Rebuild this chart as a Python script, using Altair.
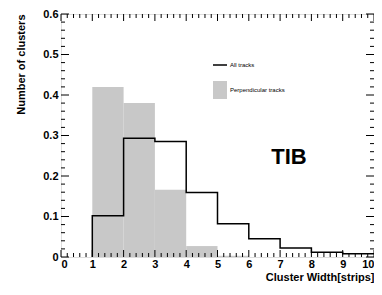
import altair as alt
import pandas as pd

# Histogram data (bin edges on cluster width)
all_edges = [1, 2, 3, 4, 5, 6, 7, 8, 9]
all_values = [0.102, 0.293, 0.285, 0.159, 0.082, 0.045, 0.022, 0.012, 0.008]
perp_edges = [1, 2, 3, 4, 5]
perp_values = [0.42, 0.38, 0.166, 0.027, 0.003]

x_major = list(range(0, 11))
x_ticks = [round(i * 0.2, 1) for i in range(51)]
y_major = [round(i * 0.1, 1) for i in range(7)]
y_ticks = [round(i * 0.02, 2) for i in range(31)]

legend_labels = ["All tracks", "Perpendicular tracks"]
panel_label = "TIB"

W, H = 313, 243
FONT = "Liberation Sans"

perp_df = pd.DataFrame({"x": perp_edges, "x2": [e + 1 for e in perp_edges], "y": perp_values})
line_df = pd.DataFrame({
    "x": [all_edges[0]] + all_edges + [all_edges[-1] + 1],
    "y": [0] + all_values + [all_values[-1]],
})
xt_df = pd.DataFrame({"v": x_ticks})
yt_df = pd.DataFrame({"v": y_ticks})

xs = alt.Scale(domain=[0, 10], nice=False, zero=True)
ys = alt.Scale(domain=[0, 0.6], nice=False, zero=True)

xmaj_test = "abs(datum.v - round(datum.v)) < 0.001"
ymaj_test = "abs(datum.v*10 - round(datum.v*10)) < 0.001"

bars = alt.Chart(perp_df).mark_rect(color="#c8c8c8").encode(
    x=alt.X("x:Q", scale=xs, axis=alt.Axis(
        orient="bottom", values=x_major, ticks=False, domain=False, grid=False,
        labelFont=FONT, labelFontWeight="bold", labelFontSize=11, labelColor="black",
        labelPadding=1, labelFlush=True, title="Cluster Width[strips]", titleFont=FONT,
        titleFontWeight="bold", titleFontSize=11, titleColor="black", titleAnchor="end",
        titlePadding=2)),
    x2="x2:Q",
    y=alt.Y("y:Q", scale=ys, axis=alt.Axis(
        orient="left", values=y_major, ticks=False, domain=False, grid=False,
        labelFont=FONT, labelFontWeight="bold", labelFontSize=11, labelColor="black",
        labelPadding=3, labelFlush=False,
        labelExpr="datum.value == 0 ? '0' : format(datum.value, '.1f')",
        title="Number of clusters", titleFont=FONT, titleFontWeight="bold",
        titleFontSize=11, titleColor="black", titleAnchor="end", titlePadding=16)),
    y2=alt.datum(0),
)

line = alt.Chart(line_df).mark_line(interpolate="step-after", color="black", strokeWidth=1.5).encode(
    x=alt.X("x:Q", scale=xs, axis=None),
    y=alt.Y("y:Q", scale=ys, axis=None),
)


def xtick_layer(major, edge):
    ln = 7 if major else 4
    test = xmaj_test if major else "!(" + xmaj_test + ")"
    y0, y1 = (H, H - ln) if edge == "bottom" else (0, ln)
    return alt.Chart(xt_df).transform_filter(test).mark_rule(color="black", strokeWidth=1).encode(
        x=alt.X("v:Q", scale=xs, axis=None), y=alt.value(y0), y2=alt.value(y1))


def ytick_layer(major, edge):
    ln = 8 if major else 4
    test = ymaj_test if major else "!(" + ymaj_test + ")"
    x0, x1 = (0, ln) if edge == "left" else (W, W - ln)
    return alt.Chart(yt_df).transform_filter(test).mark_rule(color="black", strokeWidth=1).encode(
        y=alt.Y("v:Q", scale=ys, axis=None), x=alt.value(x0), x2=alt.value(x1))


ticks = [xtick_layer(m, e) for m in (True, False) for e in ("bottom", "top")] + \
        [ytick_layer(m, e) for m in (True, False) for e in ("left", "right")]

leg_df = pd.DataFrame({"label": legend_labels})

leg_line = alt.Chart(leg_df.iloc[[0]]).mark_rule(color="black", strokeWidth=1.5).encode(
    x=alt.value(152), x2=alt.value(166), y=alt.value(51))
leg_rect = alt.Chart(leg_df.iloc[[1]]).mark_rect(color="#c8c8c8").encode(
    x=alt.value(152), x2=alt.value(166), y=alt.value(67), y2=alt.value(85))
leg_text1 = alt.Chart(leg_df.iloc[[0]]).mark_text(
    align="left", baseline="middle", font=FONT, fontSize=6, color="black").encode(
    x=alt.value(169), y=alt.value(51), text="label:N")
leg_text2 = alt.Chart(leg_df.iloc[[1]]).mark_text(
    align="left", baseline="middle", font=FONT, fontSize=6, color="black").encode(
    x=alt.value(169), y=alt.value(76), text="label:N")

tib = alt.Chart(pd.DataFrame({"t": [panel_label]})).mark_text(
    align="center", baseline="alphabetic", font=FONT, fontSize=22, fontWeight="bold",
    color="black").encode(x=alt.value(228), y=alt.value(150), text="t:N")

chart = alt.layer(bars, line, *ticks, leg_line, leg_rect, leg_text1, leg_text2, tib).resolve_axis(
    x="independent", y="independent"
).properties(
    width=W, height=H,
    autosize=alt.AutoSizeParams(type="none"),
    padding={"left": 53, "top": 6, "right": 0, "bottom": 30},
).configure_view(stroke="black", strokeWidth=1.2).configure(background="white")

chart.save("out.html", embed_options={"renderer": "svg", "actions": False})
